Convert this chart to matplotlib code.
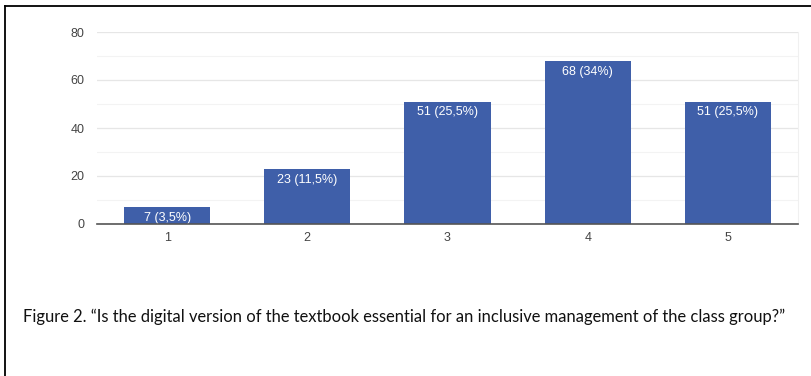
import matplotlib
matplotlib.use("Agg")
import matplotlib.pyplot as plt
from matplotlib.lines import Line2D

categories = ["1", "2", "3", "4", "5"]
counts = [7, 23, 51, 68, 51]
percent_labels = ["3,5%", "11,5%", "25,5%", "34%", "25,5%"]
y_ticks = [0, 20, 40, 60, 80]
caption = "Figure 2. \u201cIs the digital version of the textbook essential for an inclusive management of the class group?\u201d"

W, H = 812, 376
fig = plt.figure(figsize=(W / 100, H / 100), dpi=100)
fig.patch.set_facecolor("white")

ax = fig.add_axes([97 / W, (H - 224) / H, (798 - 97) / W, (224 - 32) / H])
x = list(range(len(categories)))
bars = ax.bar(x, counts, width=0.615, color="#3f5fa9", zorder=3)

for xi, c, p in zip(x, counts, percent_labels):
    ax.annotate(f"{c} ({p})", (xi, c), xytext=(0, -3.5), textcoords="offset points",
                ha="center", va="top", color="white", fontsize=9.0,
                family="Liberation Sans", zorder=4)

ax.set_xlim(-0.5, len(categories) - 0.5)
ax.set_ylim(0, 80)
ax.set_yticks(y_ticks)
ax.set_yticks([10, 30, 50, 70], minor=True)
ax.set_xticks(x)
ax.set_xticklabels(categories)
ax.grid(axis="y", which="major", color="#e6e6e6", lw=0.9, zorder=0)
ax.grid(axis="y", which="minor", color="#f3f3f3", lw=0.8, zorder=0)
ax.tick_params(axis="both", which="both", length=0, colors="#444444", labelsize=9)
ax.tick_params(axis="y", pad=9)
ax.tick_params(axis="x", pad=6)
for lbl in ax.get_xticklabels() + ax.get_yticklabels():
    lbl.set_family("Liberation Sans")
for side in ["left", "top"]:
    ax.spines[side].set_visible(False)
ax.spines["right"].set_color("#f0f0f0")
ax.spines["bottom"].set_color("#555555")
ax.spines["bottom"].set_linewidth(1.2)
ax.spines["bottom"].set_zorder(5)

# frame lines along the top and left edges of the figure
fig.add_artist(Line2D([5 / W, 1], [1 - 6 / H, 1 - 6 / H], color="black", lw=1.3))
fig.add_artist(Line2D([5 / W, 5 / W], [0, 1 - 6 / H], color="black", lw=1.3))

fig.text(23 / W, 1 - 317 / H, caption, ha="left", va="center",
         fontsize=11.9, family="Lato", color="#111111")

fig.savefig("out.png", dpi=100)
